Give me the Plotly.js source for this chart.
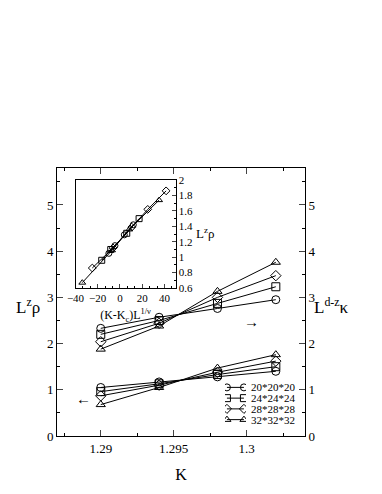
<!DOCTYPE html>
<html><head><meta charset="utf-8">
<script src="https://cdn.plot.ly/plotly-3.0.1.min.js"></script>
<style>html,body{margin:0;padding:0;background:#fff}#chart{width:382px;height:494px}</style>
</head><body><div id="chart"></div>
<script>
// ---- data ----
const K = [1.29, 1.294, 1.298, 1.302];
const seriesLabels = ['20*20*20', '24*24*24', '28*28*28', '32*32*32'];
// L^z rho (left axis)
const rho20 = [1.05, 1.17, 1.28, 1.40];
const rho24 = [0.96, 1.13, 1.33, 1.50];
const rho28 = [0.87, 1.10, 1.38, 1.62];
const rho32 = [0.68, 1.05, 1.47, 1.76];
// L^(d-z) kappa (right axis)
const kap20 = [2.33, 2.57, 2.76, 2.95];
const kap24 = [2.20, 2.50, 2.87, 3.23];
const kap28 = [2.04, 2.44, 3.00, 3.47];
const kap32 = [1.88, 2.38, 3.13, 3.76];
// inset: scaling collapse
const scX20 = [-10.0, -4.5, 3.9, 12.0];
const scY20 = [1.05, 1.15, 1.29, 1.42];
const scX24 = [-16.4, -8.3, 6.1, 17.2];
const scY24 = [0.96, 1.10, 1.31, 1.50];
const scX28 = [-24.9, -6.2, 10.6, 25.0, 41.5];
const scY28 = [0.86, 1.12, 1.39, 1.62, 1.86];
const scX32 = [-33.9, -7.1, 8.4, 35.2];
const scY32 = [0.67, 1.09, 1.36, 1.74];

// ---- styles ----
const symbols = ['circle-open', 'square-open', 'diamond-open', 'triangle-up-open'];
const rhoSets = [rho20, rho24, rho28, rho32];
const kapSets = [kap20, kap24, kap28, kap32];
const scX = [scX20, scX24, scX28, scX32];
const scY = [scY20, scY24, scY28, scY32];
const FONT = '"Liberation Serif", "Times New Roman", Times, serif';

const traces = [];
function mk(x, y, sym, size, xa, ya) {
  return {x: x, y: y, type: 'scatter', mode: 'lines+markers', xaxis: xa, yaxis: ya,
    line: {color: 'black', width: 1},
    marker: {symbol: sym, size: size, color: 'black', line: {color: 'black', width: 1}},
    showlegend: false, hoverinfo: 'skip'};
}
for (let i = 0; i < 4; i++) traces.push(mk(K, rhoSets[i], symbols[i], 8, 'x', 'y'));
for (let i = 0; i < 4; i++) traces.push(mk(K, kapSets[i], symbols[i], 8, 'x', 'y2'));
for (let i = 0; i < 4; i++) traces.push(mk(scX[i], scY[i], symbols[i], 6, 'x3', 'y3'));
// legend samples (row index i, sample from 0 to 1)
for (let i = 0; i < 4; i++) traces.push(mk([0, 1], [i, i], symbols[i], 7, 'x4', 'y4'));

const annotations = [
  {text: 'L<sup>z</sup>ρ', xref: 'paper', yref: 'paper', x: -0.118, y: 0.484, xanchor: 'center', yanchor: 'middle', showarrow: false, font: {size: 17}},
  {text: 'L<sup>d-z</sup>κ', xref: 'paper', yref: 'paper', x: 1.108, y: 0.484, xanchor: 'center', yanchor: 'middle', showarrow: false, font: {size: 17}},
  {text: '→', xref: 'x', yref: 'y', x: 1.3003, y: 2.46, xanchor: 'center', yanchor: 'middle', showarrow: false, font: {size: 15, color: 'black'}},
  {text: '←', xref: 'x', yref: 'y', x: 1.2888, y: 0.80, xanchor: 'center', yanchor: 'middle', showarrow: false, font: {size: 15, color: 'black'}},
  {text: 'L<sup>z</sup>ρ', xref: 'paper', yref: 'paper', x: 0.6, y: 0.757, xanchor: 'center', yanchor: 'middle', showarrow: false, font: {size: 13}}
];
for (let i = 0; i < 4; i++) {
  annotations.push({text: seriesLabels[i], xref: 'paper', yref: 'y4', x: 0.775, y: i,
    xanchor: 'left', yanchor: 'middle', showarrow: false, font: {size: 11}});
}

const layout = {
  width: 382, height: 494,
  margin: {l: 57, r: 77, t: 168, b: 58, pad: 0},
  paper_bgcolor: 'white', plot_bgcolor: 'white',
  font: {family: FONT, color: 'black'},
  showlegend: false,
  xaxis: {range: [1.287, 1.304], tick0: 1.29, dtick: 0.005, ticks: 'inside', ticklen: 6,
    showline: true, linewidth: 1, linecolor: 'black', mirror: 'ticks', showgrid: false, zeroline: false,
    minor: {dtick: 0.0025, ticks: 'inside', ticklen: 3, tickcolor: 'black', showgrid: false},
    tickfont: {size: 13, family: FONT}, title: {text: 'K', font: {size: 16, family: FONT}, standoff: 14}},
  yaxis: {range: [0, 5.8], dtick: 1, ticks: 'inside', ticklen: 6, showline: true, linewidth: 1,
    linecolor: 'black', showgrid: false, zeroline: false, anchor: 'x',
    minor: {dtick: 0.5, ticks: 'inside', ticklen: 3, tickcolor: 'black', showgrid: false},
    tickfont: {size: 13, family: FONT}},
  yaxis2: {range: [0, 5.8], dtick: 1, ticks: 'inside', ticklen: 6, showline: true, linewidth: 1,
    linecolor: 'black', showgrid: false, zeroline: false, overlaying: 'y', side: 'right', anchor: 'x',
    minor: {dtick: 0.5, ticks: 'inside', ticklen: 3, tickcolor: 'black', showgrid: false},
    tickfont: {size: 13, family: FONT}},
  xaxis3: {domain: [0.0746, 0.478], anchor: 'y3', range: [-40, 50], tick0: 0, dtick: 20,
    ticks: 'inside', ticklen: 4, showline: true, linewidth: 1, linecolor: 'black', mirror: true,
    showgrid: false, zeroline: false,
    minor: {dtick: 20 / 3, ticks: 'inside', ticklen: 2, tickcolor: 'black', showgrid: false},
    tickfont: {size: 11, family: FONT},
    title: {text: '(K-K<sub>c</sub>)L<sup>1/ν</sup>', font: {size: 12, family: FONT}, standoff: 7}},
  yaxis3: {domain: [0.552, 0.955], anchor: 'x3', side: 'right', range: [0.6, 2], dtick: 0.2,
    ticks: 'inside', ticklen: 4, showline: true, linewidth: 1, linecolor: 'black', mirror: true,
    showgrid: false, zeroline: false,
    minor: {dtick: 0.1, ticks: 'inside', ticklen: 2, tickcolor: 'black', showgrid: false},
    tickfont: {size: 11, family: FONT}},
  xaxis4: {domain: [0.677, 0.762], anchor: 'y4', range: [-0.12, 1.12], visible: false, fixedrange: true},
  yaxis4: {domain: [0.041, 0.2015], anchor: 'x4', range: [3.5, -0.5], visible: false, fixedrange: true},
  annotations: annotations
};

Plotly.newPlot('chart', traces, layout, {staticPlot: true, displayModeBar: false});
</script></body></html>
